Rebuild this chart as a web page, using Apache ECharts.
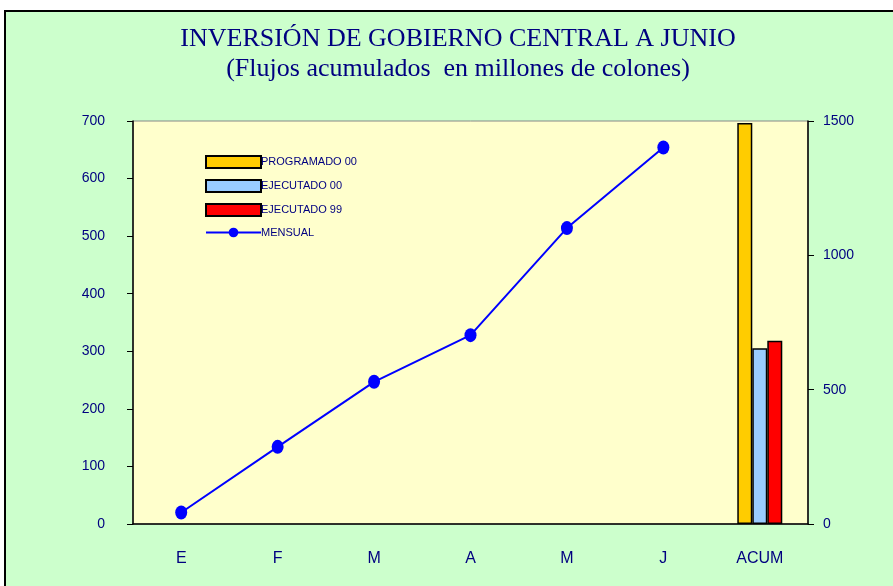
<!DOCTYPE html>
<html>
<head>
<meta charset="utf-8">
<script src="https://cdn.jsdelivr.net/npm/echarts@6/dist/echarts.min.js"></script>
<style>
  html, body { margin: 0; padding: 0; background: #ffffff; }
  #chart { width: 893px; height: 586px; }
</style>
</head>
<body>
<div id="chart"></div>
<script>
// categories and values
var categorias = ['E', 'F', 'M', 'A', 'M', 'J', 'ACUM'];
var mensual = [20, 134, 247, 328, 514, 654, null];
var programado00 = [null, null, null, null, null, null, 1493];
var ejecutado00 = [null, null, null, null, null, null, 654];
var ejecutado99 = [null, null, null, null, null, null, 682];

var navy = '#000080';

var myChart = echarts.init(document.getElementById('chart'));
var option = {
  animation: false,
  backgroundColor: '#ffffff',
  graphic: [
    {
      type: 'rect',
      z: -10,
      shape: { x: 5, y: 11, width: 900, height: 600 },
      style: { fill: '#CCFFCC', stroke: '#000000', lineWidth: 2 }
    }
  ],
  title: {
    text: '{a|INVERSIÓN DE GOBIERNO CENTRAL A JUNIO}\n{a|(Flujos acumulados  en millones de colones)}',
    left: 453,
    textAlign: 'center',
    top: 19,
    textStyle: {
      fontWeight: 'normal',
      rich: {
        a: { fontFamily: 'Liberation Serif', fontWeight: 'normal', fontSize: 26, lineHeight: 30, color: navy, align: 'center' }
      }
    }
  },
  legend: {
    orient: 'vertical',
    left: 205,
    top: 155,
    padding: 0,
    itemWidth: 55,
    itemHeight: 12,
    itemGap: 10,
    textStyle: { fontFamily: 'Liberation Sans', fontSize: 11, color: navy, padding: [0, 0, 0, -5] },
    data: [
      { name: 'PROGRAMADO 00', icon: 'rect' },
      { name: 'EJECUTADO 00', icon: 'rect' },
      { name: 'EJECUTADO 99', icon: 'rect' },
      { name: 'MENSUAL' }
    ]
  },
  grid: {
    left: 133,
    right: 85,
    top: 121,
    bottom: 62,
    show: true,
    backgroundColor: '#FFFFCC',
    borderColor: '#888888',
    borderWidth: 1
  },
  xAxis: {
    type: 'category',
    data: categorias,
    axisLine: { lineStyle: { color: '#000000', width: 1.5 } },
    axisTick: { length: 6, lineStyle: { color: '#000000' } },
    axisLabel: { margin: 27, fontFamily: 'Liberation Sans', fontSize: 16, color: navy }
  },
  yAxis: [
    {
      type: 'value',
      min: 0,
      max: 700,
      interval: 100,
      position: 'left',
      splitLine: { show: false },
      axisLine: { show: true, lineStyle: { color: '#000000', width: 1.5 } },
      axisTick: { show: true, length: 6, lineStyle: { color: '#000000' } },
      axisLabel: { margin: 28, fontFamily: 'Liberation Sans', fontSize: 14, color: navy }
    },
    {
      type: 'value',
      min: 0,
      max: 1500,
      interval: 500,
      position: 'right',
      splitLine: { show: false },
      axisLine: { show: true, lineStyle: { color: '#000000', width: 1.5 } },
      axisTick: { show: true, length: 6, lineStyle: { color: '#000000' } },
      axisLabel: {
        margin: 15,
        fontFamily: 'Liberation Sans',
        fontSize: 14,
        color: navy,
        formatter: function (v) { return String(v); }
      }
    }
  ],
  series: [
    {
      name: 'PROGRAMADO 00',
      type: 'bar',
      yAxisIndex: 1,
      barWidth: 15,
      barGap: '0%',
      itemStyle: { color: '#FFCC00', borderColor: '#000000', borderWidth: 1.5 },
      data: programado00
    },
    {
      name: 'EJECUTADO 00',
      type: 'bar',
      yAxisIndex: 1,
      barWidth: 15,
      barGap: '0%',
      itemStyle: { color: '#99CCFF', borderColor: '#000000', borderWidth: 1.5 },
      data: ejecutado00
    },
    {
      name: 'EJECUTADO 99',
      type: 'bar',
      yAxisIndex: 1,
      barWidth: 15,
      barGap: '0%',
      itemStyle: { color: '#FF0000', borderColor: '#000000', borderWidth: 1.5 },
      data: ejecutado99
    },
    {
      name: 'MENSUAL',
      type: 'line',
      yAxisIndex: 0,
      symbol: 'circle',
      symbolSize: [12, 14],
      lineStyle: { color: '#0000FF', width: 2 },
      itemStyle: { color: '#0000FF' },
      data: mensual
    }
  ]
};
myChart.setOption(option);
</script>
</body>
</html>
